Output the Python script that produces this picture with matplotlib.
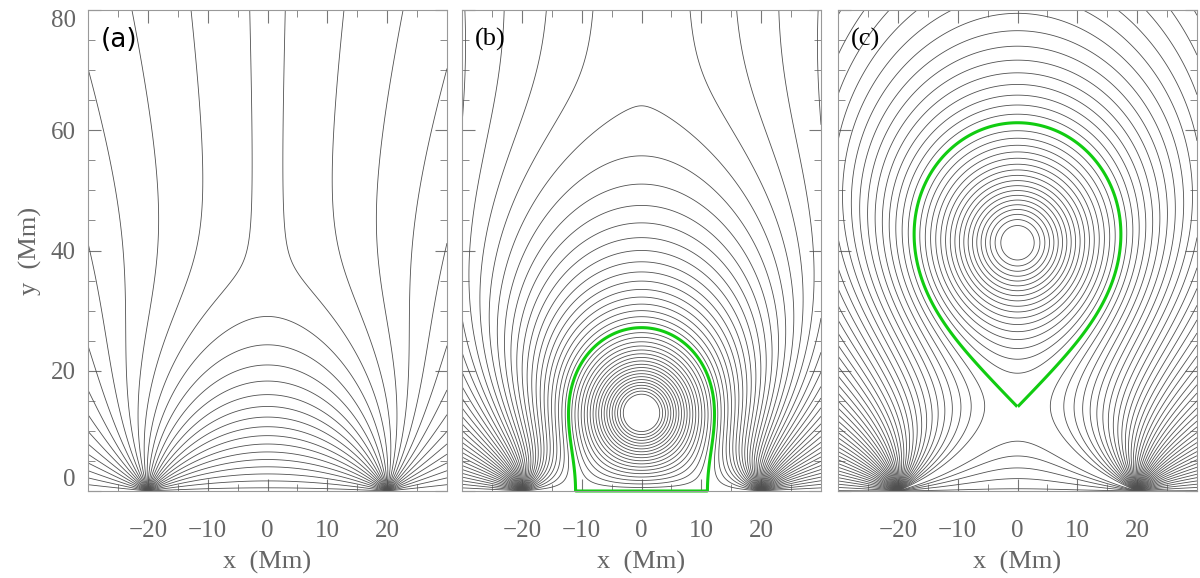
import numpy as np
import matplotlib
matplotlib.use("Agg")
import matplotlib.pyplot as plt

# geometry (Mm)
src_x = 20.0                     # arcade footpoints at +-20
cusp_h = [36.0, 66.0, 88.0]      # height of streamer cusp per panel
sheet_w = [1.0, 1.0, 1.6]        # weight of the streamer part
rope_tied = [False, True, False] # rope field shaped by the current sheet
rope_y = [None, 13.0, 41.3]      # flux rope axis
rope_core = [None, 5.0, 7.0]     # core radius of the rope current
rope_r = [None, 3.0, 2.7]        # radius of innermost drawn loop
xpt_y = [None, None, 14.0]       # X-point below the rope in (c)
bp_x = [None, 11.0, None]        # edge of the bald patch in (b)
dpsi = [0.1, 0.075, 0.065]       # flux step between drawn lines
lvl_shift = [0.7, 0.0, 0.0]      # offset of the line set (in steps)
tags = ["(a)", "(b)", "(c)"]
xticks = [-20, -10, 0, 10, 20]
yticks = [0, 20, 40, 60, 80]

x = np.linspace(-30, 30, 1000)
y = np.linspace(0, 80, 1300)
X, Y = np.meshgrid(x, y)
Z = X + 1j * Y
a = src_x


def cumtrap(v, t):
    dt = np.diff(t).reshape((-1,) + (1,) * (v.ndim - 1))
    return np.concatenate([np.zeros_like(v[:1]), np.cumsum((v[1:] + v[:-1]) / 2 * dt, axis=0)])


def integ(g):
    # flux of a regular field g = Bx - iBy, along the bottom row then up the columns
    row = cumtrap(g[0], x)
    col = cumtrap(1j * g, y)
    return np.imag(row[None, :] + col)


def rope_flux(yr, R):
    # smoothed unit line current at (0, yr) and its image at (0, -yr)
    up = np.abs(Z - 1j * yr) ** 2 + R**2
    dn = np.abs(Z + 1j * yr) ** 2 + R**2
    return 0.5 * np.log(dn / up)


def fluxes(h, w, yr, R, tied):
    # sources on the surface, a current sheet above y=h, and a rope
    b = np.sqrt(a**2 + h**2)
    s = np.sqrt(Z**2 + h**2)
    A0 = np.angle(Z - a) - np.angle(Z + a)
    A0 = A0 + w * integ((2 * a / b) * (s - b) / (Z**2 - a**2))
    if yr is None:
        return A0, None
    A1 = rope_flux(yr, R)
    if tied:
        # multiply by sqrt(z^2+h^2) so the sheet stays a field line
        sr = np.sqrt(h**2 - yr**2)
        pole = -1j / (Z - 1j * yr) + 1j / (Z + 1j * yr)
        A1 = A1 + w * integ((s / sr - 1) * pole)
    return A0, A1


def at(A, px, py):
    return A[np.argmin(np.abs(y - py)), np.argmin(np.abs(x - px))]


fig = plt.figure(figsize=(12, 5.78), dpi=100)
lefts = [88, 462, 838]
gray = "#777777"
serif = "Liberation Serif"

for i in range(3):
    ax = fig.add_axes([lefts[i] / 1200, 87 / 578, 359 / 1200, 481 / 578])
    A0, A1 = fluxes(cusp_h[i], sheet_w[i], rope_y[i], rope_core[i], rope_tied[i])
    green = None
    if i == 0:
        A = A0
        ref = at(A, 0.0, 80.0)
        levels = ref + dpsi[i] * (np.arange(-60, 60) + lvl_shift[i])
    else:
        yr = rope_y[i]
        j = np.argmin(np.abs(x - (bp_x[i] if i == 1 else 0.0)))
        if i == 1:
            # Bx = 0 on the surface at the bald patch edge
            I = -(A0[1, j] - A0[0, j]) / (A1[1, j] - A1[0, j])
            A = A0 + I * A1
            ref = np.pi + 1e-6
            green = A
        else:
            # Bx = 0 on the axis at the X-point
            k = np.argmin(np.abs(y - xpt_y[i]))
            I = -(A0[k + 1, j] - A0[k - 1, j]) / (A1[k + 1, j] - A1[k - 1, j])
            A = A0 + I * A1
            ref = at(A, 0.0, xpt_y[i])
            green = np.ma.masked_where(Y < xpt_y[i], A)
        levels = ref + dpsi[i] * (np.arange(-60, 60) + lvl_shift[i])
        levels = levels[levels < at(A, 0.0, yr + rope_r[i])]
        levels = levels[np.abs(levels - ref) > 1e-3]
    levels = levels[levels > A.min()]
    ax.contour(X, Y, A, levels=np.sort(levels), colors="#505050", linewidths=0.6)
    if green is not None:
        cs = ax.contour(X, Y, green, levels=[ref], colors="#11cc11", linewidths=2.2)
        cs.set_clip_on(False)

    ax.set_xlim(-30, 30)
    ax.set_ylim(0, 80)
    ax.set_xticks(xticks)
    ax.set_yticks(yticks)
    ax.set_xticks(np.arange(-25, 30, 5), minor=True)
    ax.set_yticks(np.arange(5, 80, 5), minor=True)
    ax.tick_params(which="both", direction="in", top=True, right=True, color=gray,
                   labelcolor="#666666", labelsize=18)
    ax.tick_params(axis="x", pad=21)
    ax.tick_params(axis="y", pad=9)
    ax.tick_params(which="major", length=9)
    ax.tick_params(which="minor", length=5)
    for s in ax.spines.values():
        s.set_color("#999999")
    ax.set_xticklabels(["\u221220", "\u221210", "0", "10", "20"], family=serif)
    ax.set_xlabel("x  (Mm)", family=serif, fontsize=19, color="#666666", labelpad=6)
    if i == 0:
        ax.set_yticklabels([str(v) for v in yticks], family=serif)
        labs = ax.get_yticklabels()
        labs[0].set_va("bottom")
        labs[-1].set_va("top")
        ax.set_ylabel("y  (Mm)", family=serif, fontsize=19, color="#666666", labelpad=6)
    else:
        ax.set_yticklabels([])
    fam = "DejaVu Sans" if i == 0 else serif
    ax.text(0.035, 0.938, tags[i], transform=ax.transAxes, fontsize=19, family=fam,
            va="center", ha="left", color="black")

fig.savefig("out.png", dpi=100)
